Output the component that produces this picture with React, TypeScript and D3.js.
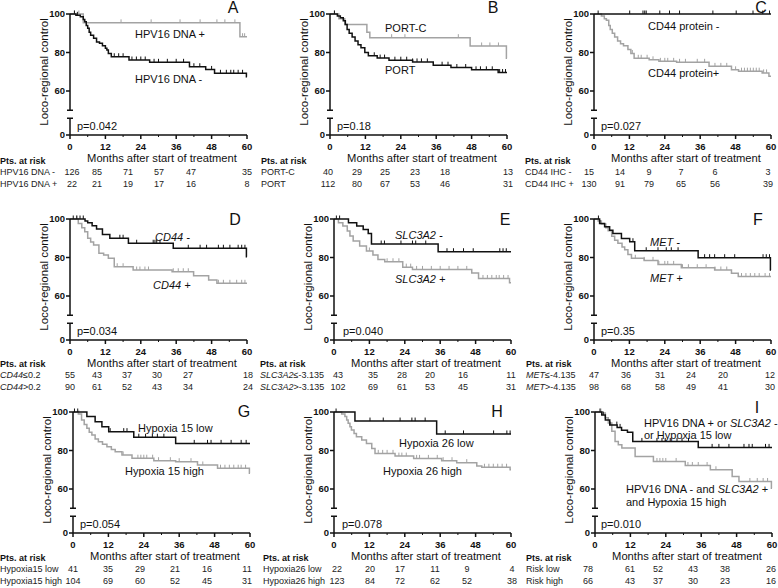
import React from "react";
import * as d3 from "d3";

type Step = [number, number];

const BLACK = "#111";
const GRAY = "#a3a3a3";
const FONT = "'Liberation Sans', Arial, Helvetica, sans-serif";

const months = [0, 12, 24, 36, 48, 60];
const minorMonths = [6, 18, 30, 42, 54];
const yTicksUpper = [100, 80, 60];

// A - HPV16 DNA
const hpvNegSteps: Step[] = [[2, 99.3], [3.5, 98.6], [4.5, 97.2], [5, 96], [5.5, 94], [6, 92.6], [6.5, 90.5], [7, 89], [8, 87.4], [9, 85.5], [10, 84.8], [11, 83.5], [12, 82.2], [12.5, 81.3], [13, 79.5], [14, 77.8], [20, 76.1], [27, 74.9], [40.5, 72.6], [46, 71.2], [49, 69.2], [59.8, 67.4]];
const hpvNegCensor = [1.5, 2.5, 15, 16.5, 18, 21, 22.5, 24, 25.5, 28.5, 30, 33, 36, 38.5, 42, 44, 48, 51, 53, 54.5, 55.5, 57, 58.5];
const hpvPosSteps: Step[] = [[4.5, 95.4], [57.6, 88.2]];
const hpvPosCensor = [1.5, 3, 17.3, 27.5, 37.3, 44.1, 49.8, 52.5, 55.9, 58.5, 59.2];
const riskNamesA = ["HPV16 DNA -", "HPV16 DNA +"];
const riskA = [[126, 85, 71, 57, 47, 35], [22, 21, 19, 17, 16, 8]];

// B - PORT-C vs PORT
const portCSteps: Step[] = [[3, 97.5], [5, 94.6], [12.5, 90.5], [13.5, 87.7], [47.5, 83.4], [59.8, 77]];
const portCCensor = [1.5, 20.9, 25.4, 43.5, 51.4, 54.2, 57.1];
const portSteps: Step[] = [[2.5, 99], [3.5, 98], [4.5, 96.5], [5.2, 94.5], [5.8, 92], [6.5, 90], [7.5, 88], [8.5, 86], [9.5, 84], [10.5, 82.5], [11.8, 80], [13, 78.3], [16, 77.1], [20, 76], [28, 75.1], [35, 73.4], [41, 72.2], [48, 71], [57, 69.6]];
const portCensor = [1.5, 15, 17, 18.5, 22, 24, 26, 28, 29.5, 31, 33, 38, 40, 43, 46, 49.5, 51, 53, 55, 57.5, 58.5, 59.5];
const riskNamesB = ["PORT-C", "PORT"];
const riskB = [[40, 29, 25, 23, 18, 13], [112, 80, 67, 53, 46, 31]];

// C - CD44 protein
const cd44ProtNegSteps: Step[] = [];
const cd44ProtNegCensor = [1.4, 12.1, 16.6, 17.2, 17.7, 22.3, 25.6, 29, 40.3, 48.2, 53.9, 57.2, 59.5];
const cd44ProtPosSteps: Step[] = [[2.5, 99], [3.5, 97.5], [4.2, 96.7], [5, 94], [5.5, 92], [6.2, 90], [7, 88], [8, 86], [9, 84.5], [10, 83.5], [11.5, 81.5], [12.5, 79.5], [13.6, 77], [18.7, 76.2], [22, 75.4], [28, 74.9], [39, 72.8], [46.6, 71], [49, 70.3], [57, 69.4], [59.3, 67.7]];
const cd44ProtPosCensor = [13, 15, 16, 18, 20, 22.5, 24, 25, 27, 29, 31, 35, 37.5, 41, 43, 45, 48, 50, 51, 52, 53, 54, 55, 56, 57.5, 58.5];
const riskNamesC = ["CD44 IHC -", "CD44 IHC +"];
const riskC = [[15, 14, 9, 7, 6, 3], [130, 91, 79, 65, 56, 39]];

// D - CD44 expression
const cd44NegSteps: Step[] = [[5.1, 99], [6, 98], [7.5, 96.5], [9, 94.8], [11, 92], [13.5, 90], [19.8, 87.4], [35, 84.8], [59.8, 80.4]];
const cd44NegCensor = [1.1, 2.3, 3.4, 4.5, 16.9, 18, 22.6, 28.2, 28.8, 29.4, 30.5, 40.1, 44.1, 46.3, 50.3, 52, 54.2, 57, 58.2, 59.3];
const cd44PosSteps: Step[] = [[2.8, 97.7], [4, 95.5], [5, 93.4], [6, 90], [7, 88], [8, 86.5], [9.8, 82.2], [11.4, 81.3], [13, 79.6], [15, 75.2], [21.4, 73.5], [34.6, 72.6], [41.9, 70.5], [47, 68.3], [49.8, 66.6]];
const cd44PosCensor = [2.3, 16, 18, 22.6, 23.7, 25.4, 26.6, 35, 36.7, 38.4, 40.1, 50.3, 52, 54.2, 56.5, 58.2, 59.3];
const riskNamesD = ["*CD44*≤0.2", "*CD44*>0.2"];
const riskD = [[55, 43, 37, 30, 27, 18], [90, 61, 52, 43, 34, 24]];

// E - SLC3A2
const slcNegSteps: Step[] = [[4.9, 98], [7.7, 96.4], [9.9, 94.6], [11.6, 92.5], [12.7, 87], [35.3, 83]];
const slcNegCensor = [0.8, 1.9, 16, 17.1, 22.7, 26.6, 27.7, 31.1, 38.3, 40.5, 43.9, 47.2, 56.2, 57.3, 58.4];
const slcPosSteps: Step[] = [[1.5, 98], [3, 96.4], [4.5, 93.8], [5.4, 91.2], [6.5, 88.6], [8.7, 86], [11, 83.4], [13.2, 81.3], [14.9, 79], [17.2, 77.8], [23.3, 75], [26.6, 73.8], [46.7, 72], [49, 69.1], [59.5, 66.9]];
const slcPosCensor = [12, 18, 20, 22, 24.5, 26, 28, 30, 33, 36, 39, 42, 45, 50.5, 52, 53.5, 55, 56, 57.5, 59];
const riskNamesE = ["*SLC3A2*≤-3.135", "*SLC3A2*>-3.135"];
const riskE = [[43, 35, 28, 20, 16, 11], [102, 69, 61, 53, 45, 31]];

// F - MET
const metNegSteps: Step[] = [[1.9, 97.7], [3.6, 96], [5.3, 94.2], [6.4, 92.5], [9.3, 89.9], [12.1, 88.2], [13.8, 83.5], [35.3, 79.9], [59.8, 73.5]];
const metNegCensor = [1.5, 2, 13.2, 17.7, 21.7, 24.5, 26.2, 28.5, 37.5, 39.2, 40.9, 44.3, 47.7, 57.3, 58.4, 59.5];
const metPosSteps: Step[] = [[1.4, 99], [2.5, 97.4], [4, 95.5], [4.8, 93.9], [6, 91], [7, 89], [8.1, 87.4], [9.5, 85.5], [10.4, 84], [11.5, 81.5], [12.7, 79.6], [17, 78.5], [21.7, 76.4], [29.6, 74.7], [40.9, 73.5], [46.6, 71.8], [48.9, 70.1]];
const metPosCensor = [14, 17, 20, 22, 24, 25, 27, 30, 32, 35, 38, 41, 43, 45, 50, 51.5, 53, 54.5, 56, 58, 59.5];
const riskNamesF = ["*MET*≤-4.135", "*MET*>-4.135"];
const riskF = [[47, 36, 31, 24, 20, 12], [98, 68, 58, 49, 41, 30]];

// G - Hypoxia 15
const hyp15LowSteps: Step[] = [[4.7, 97.6], [7.5, 95], [9.8, 92.4], [12.1, 89.8], [20.6, 86.9], [34.8, 83.7]];
const hyp15LowCensor = [0.5, 1.6, 12.6, 17.2, 18.3, 22.3, 24.6, 26.9, 28.6, 30.8, 41.1, 45.6, 46.8, 50.2, 53.6, 57, 58.7];
const hyp15HighSteps: Step[] = [[1.8, 99], [2.9, 95.8], [3.8, 93.5], [4.7, 91.5], [5.5, 89.5], [6.4, 88], [7.5, 86], [8.6, 84.6], [10, 83.2], [11.5, 82], [13, 80.5], [14.3, 79.4], [16.6, 77.7], [20, 76], [27.4, 74.7], [34.8, 74.2], [42.2, 72.5], [49, 70.8], [59.8, 68.2]];
const hyp15HighCensor = [2, 17, 22, 23, 24, 25, 27, 29, 33, 36, 40, 44, 50, 51.5, 53, 54.5, 56, 57, 58.5];
const riskNamesG = ["Hypoxia15 low", "Hypoxia15 high"];
const riskG = [[41, 35, 29, 21, 16, 11], [104, 69, 60, 52, 45, 31]];

// H - Hypoxia 26
const hyp26LowSteps: Step[] = [[7.1, 95.3], [34.8, 88.6]];
const hyp26LowCensor = [0.7, 12.2, 16.7, 22.4, 26.4, 27.5, 30.9, 37.7, 43.9, 54.1, 58.6, 59.7];
const hyp26HighSteps: Step[] = [[2.6, 99], [3.7, 97.6], [4.3, 95.8], [4.8, 94.1], [5.4, 92.3], [5.9, 90.6], [6.8, 88.8], [7.6, 87.2], [9.4, 85.5], [11, 83.7], [12.8, 81.1], [13.9, 78.5], [20.7, 77.1], [27, 75.9], [36.5, 74.7], [41.6, 73.7], [48.4, 72], [50.1, 71.3], [59.7, 70]];
const hyp26HighCensor = [15, 16.5, 18, 20, 22, 23, 24.5, 28, 29, 32, 35, 37, 40, 45, 51, 52.5, 54, 55.5, 57, 58.5];
const riskNamesH = ["Hypoxia26 low", "Hypoxia26 high"];
const riskH = [[22, 20, 17, 11, 9, 4], [123, 84, 72, 62, 52, 38]];

// I - combined risk
const riskLowSteps: Step[] = [[2.3, 98.4], [3.5, 95.8], [5, 93.2], [7.5, 92], [9, 90.5], [11, 89.5], [12.8, 84.7], [35, 81.6]];
const riskLowCensor = [1.7, 2.8, 5.1, 7.4, 8.5, 15.9, 21, 22.7, 23.8, 25.5, 27.8, 29.5, 31.7, 39.7, 42, 45.4, 50.5, 52.2, 53.3, 57.8, 59];
const riskHighSteps: Step[] = [[2.5, 99.5], [3.5, 97], [4.5, 94.3], [5.7, 90], [6.8, 84.7], [7.9, 83], [9.1, 81.3], [13.6, 76.9], [19.8, 74.3], [30.6, 72.2], [39.1, 70], [46.5, 66.5], [48.8, 63.9], [59.8, 60.4]];
const riskHighCensor = [2, 21, 22, 23, 24, 27.5, 31.5, 33, 35, 38, 41, 52.5, 55, 57, 58.5];
const riskNamesI = ["Risk low", "Risk high"];
const riskI = [[78, 61, 52, 43, 38, 26], [66, 43, 37, 30, 23, 16]];

const pValues = ["p=0.042", "p=0.18", "p=0.027", "p=0.034", "p=0.040", "p=0.35", "p=0.054", "p=0.078", "p=0.010"];

// layout of the nine panels
const panels = [
  { letter: "A", x0: 70, y100: 14, left: 0, riskDy: 0, letterPos: [233, 13], pPos: [77, 130], cols: [2, 27, 58, 89, 121, 177],
    curves: [{ steps: hpvPosSteps, censor: hpvPosCensor, color: GRAY }, { steps: hpvNegSteps, censor: hpvNegCensor, color: BLACK }],
    labels: [["HPV16 DNA +", 135, 38], ["HPV16 DNA -", 135, 83]], riskNames: riskNamesA, risk: riskA },
  { letter: "B", x0: 330, y100: 14, left: 261, riskDy: 0, letterPos: [493, 13], pPos: [337, 130], cols: [-2, 27, 55, 85, 115, 178],
    curves: [{ steps: portCSteps, censor: portCCensor, color: GRAY }, { steps: portSteps, censor: portCensor, color: BLACK }],
    labels: [["PORT-C", 385, 32], ["PORT", 385, 74]], riskNames: riskNamesB, risk: riskB },
  { letter: "C", x0: 594, y100: 14, left: 525, riskDy: 0, letterPos: [761, 13], pPos: [601, 130], cols: [-5, 26, 55, 87, 121, 174],
    curves: [{ steps: cd44ProtPosSteps, censor: cd44ProtPosCensor, color: GRAY }, { steps: cd44ProtNegSteps, censor: cd44ProtNegCensor, color: BLACK }],
    labels: [["CD44 protein -", 648, 30], ["CD44 protein+", 648, 77]], riskNames: riskNamesC, risk: riskC },
  { letter: "D", x0: 70, y100: 219, left: 0, riskDy: -2, letterPos: [235, 225], pPos: [77, 335], cols: [0, 27, 57, 87, 118, 178],
    curves: [{ steps: cd44PosSteps, censor: cd44PosCensor, color: GRAY }, { steps: cd44NegSteps, censor: cd44NegCensor, color: BLACK }],
    labels: [["*CD44 -*", 155, 241], ["*CD44 +*", 153, 289]], riskNames: riskNamesD, risk: riskD },
  { letter: "E", x0: 334, y100: 219, left: 260, riskDy: -2, letterPos: [505, 225], pPos: [343, 335], cols: [4, 39, 68, 96, 129, 177],
    curves: [{ steps: slcPosSteps, censor: slcPosCensor, color: GRAY }, { steps: slcNegSteps, censor: slcNegCensor, color: BLACK }],
    labels: [["*SLC3A2 -*", 395, 239], ["*SLC3A2 +*", 395, 283]], riskNames: riskNamesE, risk: riskE },
  { letter: "F", x0: 594, y100: 219, left: 526, riskDy: -2, letterPos: [758, 225], pPos: [601, 335], cols: [0, 32, 66, 97, 129, 176],
    curves: [{ steps: metPosSteps, censor: metPosCensor, color: GRAY }, { steps: metNegSteps, censor: metNegCensor, color: BLACK }],
    labels: [["*MET -*", 650, 246], ["*MET +*", 650, 282]], riskNames: riskNamesF, risk: riskF },
  { letter: "G", x0: 73, y100: 412, left: 0, riskDy: -1, letterPos: [244, 417], pPos: [80, 528], cols: [0, 35, 67, 102, 134, 174],
    curves: [{ steps: hyp15HighSteps, censor: hyp15HighCensor, color: GRAY }, { steps: hyp15LowSteps, censor: hyp15LowCensor, color: BLACK }],
    labels: [["Hypoxia 15 low", 138, 432], ["Hypoxia 15 high", 125, 475]], riskNames: riskNamesG, risk: riskG },
  { letter: "H", x0: 334, y100: 412, left: 263, riskDy: -1, letterPos: [497, 417], pPos: [342, 528], cols: [3, 36, 66, 101, 133, 178],
    curves: [{ steps: hyp26HighSteps, censor: hyp26HighCensor, color: GRAY }, { steps: hyp26LowSteps, censor: hyp26LowCensor, color: BLACK }],
    labels: [["Hypoxia 26 low", 399, 447], ["Hypoxia 26 high", 383, 475]], riskNames: riskNamesH, risk: riskH },
  { letter: "I", x0: 595, y100: 412, left: 526, riskDy: -1, letterPos: [757, 413], pPos: [601, 528], cols: [-7, 35, 63, 98, 130, 176],
    curves: [{ steps: riskHighSteps, censor: riskHighCensor, color: GRAY }, { steps: riskLowSteps, censor: riskLowCensor, color: BLACK }],
    labels: [["HPV16 DNA + or *SLC3A2* -", 644, 427], ["or Hypoxia 15 low", 644, 439], ["HPV16 DNA - and *SLC3A2* +", 626, 493], ["and Hypoxia 15 high", 626, 506]],
    riskNames: riskNamesI, risk: riskI },
];

// "*x*" marks italic parts
const rich = (s: string) =>
  s.split("*").map((seg, i) => (
    <tspan key={i} fontStyle={i % 2 ? "italic" : "normal"}>{seg}</tspan>
  ));

const levelAt = (steps: Step[], t: number) => {
  let v = 100;
  for (const [m, p] of steps) if (m <= t) v = p;
  return v;
};

const Panel = ({ cfg, idx }: any) => {
  const W = 177;
  const { x0, y100 } = cfg;
  const x = d3.scaleLinear().domain([0, 60]).range([x0, x0 + W]);
  const yU = d3.scaleLinear().domain([50, 100]).range([y100 + 96.25, y100]);
  const y0 = y100 + 121;
  const yL = d3.scaleLinear().domain([0, 10]).range([y0, y0 - 19.25]);
  const line = d3.line<Step>().x(d => x(d[0])).y(d => yU(d[1])).curve(d3.curveStepAfter);
  const ry = y0 + cfg.riskDy;

  return (
    <g>
      {/* curves */}
      {cfg.curves.map((c: any, i: number) => {
        const last = c.steps.length ? c.steps[c.steps.length - 1][1] : 100;
        const pts: Step[] = [[0, 100], ...c.steps, [60, last]];
        return (
          <g key={i}>
            <path d={line(pts) || ""} fill="none" stroke={c.color} strokeWidth={1.5} />
            {c.censor.map((t: number, j: number) => {
              const yy = yU(levelAt(c.steps, t));
              return <line key={j} x1={x(t)} x2={x(t)} y1={yy - 3.5} y2={yy} stroke={c.color} strokeWidth={1} />;
            })}
          </g>
        );
      })}

      {/* y axis with break */}
      <g stroke={BLACK} strokeWidth={1.5} fill="none">
        <line x1={x0} x2={x0} y1={yU(100)} y2={yU(50)} />
        <line x1={x0 - 3} x2={x0 + 3} y1={yU(50)} y2={yU(50)} />
        <line x1={x0} x2={x0} y1={yL(8.7)} y2={y0} />
        <line x1={x0 - 3} x2={x0 + 3} y1={yL(8.7)} y2={yL(8.7)} />
        {yTicksUpper.map(v => <line key={v} x1={x0 - 4} x2={x0} y1={yU(v)} y2={yU(v)} />)}
        <line x1={x0 - 4} x2={x0} y1={y0} y2={y0} />
        <line x1={x0} x2={x0 + W} y1={y0} y2={y0} />
        {months.map(m => <line key={m} x1={x(m)} x2={x(m)} y1={y0} y2={y0 + 4} />)}
        {minorMonths.map(m => <line key={m} x1={x(m)} x2={x(m)} y1={y0} y2={y0 + 2} strokeWidth={1} />)}
      </g>
      <g fontFamily={FONT} fontSize={9.5} fontWeight="bold" fill={BLACK}>
        {yTicksUpper.map(v => <text key={v} x={x0 - 5} y={yU(v) + 3.4} textAnchor="end">{v}</text>)}
        <text x={x0 - 5} y={y0 + 3.4} textAnchor="end">0</text>
        {months.map(m => <text key={m} x={x(m)} y={y0 + 14.5} textAnchor="middle">{m}</text>)}
      </g>

      <g fontFamily={FONT} fill={BLACK}>
        <text transform={`translate(${x0 - 22},${y100 + 58}) rotate(-90)`} textAnchor="middle" fontSize={11.5}>Loco-regional control</text>
        <text x={x0 + 92} y={y0 + 27} textAnchor="middle" fontSize={11.2}>Months after start of treatment</text>
        <text x={cfg.letterPos[0]} y={cfg.letterPos[1]} textAnchor="middle" fontSize={16}>{cfg.letter}</text>
        <text x={cfg.pPos[0]} y={cfg.pPos[1]} fontSize={11}>{pValues[idx]}</text>
        {cfg.labels.map((l: any, i: number) => (
          <text key={i} x={l[1]} y={l[2]} fontSize={11}>{rich(l[0])}</text>
        ))}
      </g>

      {/* numbers at risk */}
      <g fontFamily={FONT} fontSize={9} fill="#222">
        <text x={cfg.left} y={ry + 28.5} fontWeight="bold" fill={BLACK}>Pts. at risk</text>
        {cfg.riskNames.map((n: string, r: number) => (
          <g key={r}>
            <text x={cfg.left} y={ry + 40 + r * 11.5}>{rich(n)}</text>
            {cfg.risk[r].map((v: number, k: number) => (
              <text key={k} x={x0 + cfg.cols[k]} y={ry + 40 + r * 11.5} textAnchor="middle">{v}</text>
            ))}
          </g>
        ))}
      </g>
    </g>
  );
};

export default function App() {
  return (
    <svg width={778} height={588} style={{ position: "absolute", left: 0, top: 0, background: "#fff" }}>
      <rect width={778} height={588} fill="#fff" />
      {panels.map((p, i) => <Panel key={p.letter} cfg={p} idx={i} />)}
    </svg>
  );
}
